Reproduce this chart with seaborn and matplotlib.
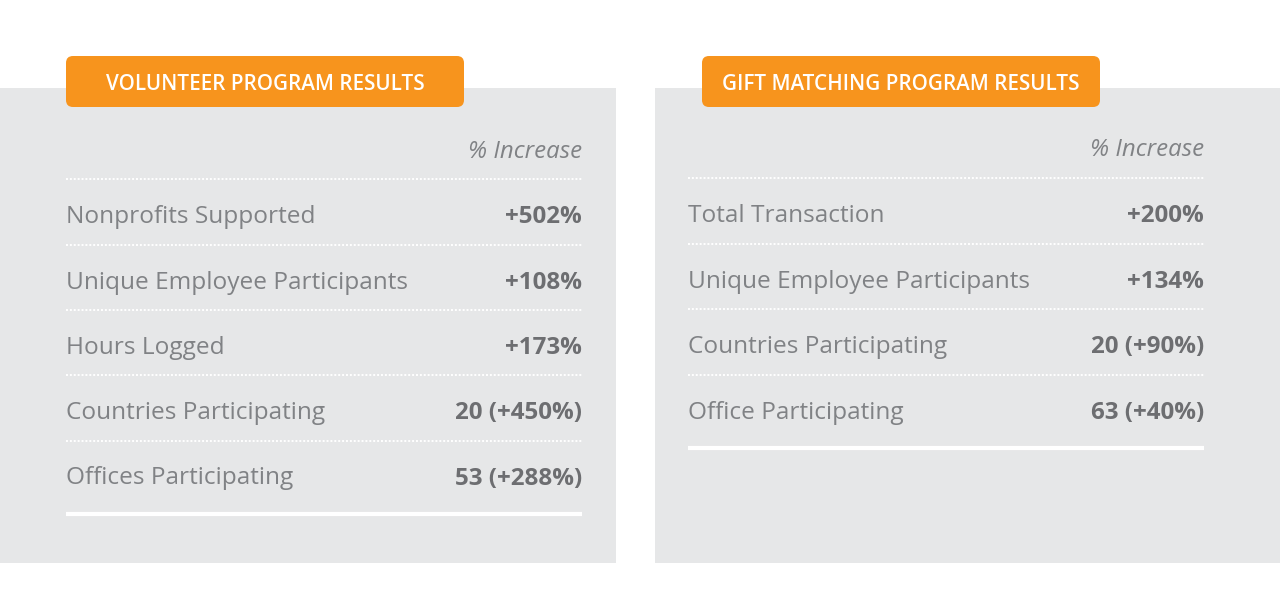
import matplotlib
matplotlib.use("Agg")
import matplotlib.pyplot as plt
from matplotlib.patches import Rectangle, FancyBboxPatch
import seaborn as sns

# ---- data ----
left_title = "VOLUNTEER PROGRAM RESULTS"
left_labels = ["Nonprofits Supported", "Unique Employee Participants", "Hours Logged",
               "Countries Participating", "Offices Participating"]
left_values = ["+502%", "+108%", "+173%", "20 (+450%)", "53 (+288%)"]

right_title = "GIFT MATCHING PROGRAM RESULTS"
right_labels = ["Total Transaction", "Unique Employee Participants",
                "Countries Participating", "Office Participating"]
right_values = ["+200%", "+134%", "20 (+90%)", "63 (+40%)"]

column_header = "% Increase"

sns.set_theme(style="white")
plt.rcParams['font.family'] = ['Open Sans', 'DejaVu Sans']

W, H = 1280, 597
fig = plt.figure(figsize=(W / 100, H / 100), dpi=100)
ax = fig.add_axes([0, 0, 1, 1])
ax.set_xlim(0, W)
ax.set_ylim(H, 0)
ax.axis('off')

PANEL = "#e6e7e8"
ORANGE = "#f7941d"
LABEL_C = "#808285"
VALUE_C = "#6d6e71"

def panel(px0, px1, tab_x0, tab_x1, title, labels, values, text_x0, text_x1,
          header_base, first_base, pitch):
    ax.add_patch(Rectangle((px0, 88), px1 - px0, 475, facecolor=PANEL, edgecolor='none', zorder=0))
    ax.add_patch(FancyBboxPatch((tab_x0, 56), tab_x1 - tab_x0, 51,
                                boxstyle="round,pad=0,rounding_size=7",
                                facecolor=ORANGE, edgecolor='none', zorder=2))
    ax.text((tab_x0 + tab_x1) / 2, 89.5, title, ha='center', va='baseline',
            color='white', fontsize=14.9, fontweight='semibold', zorder=3)
    ax.text(text_x1, header_base, column_header, ha='right', va='baseline',
            color=LABEL_C, fontsize=17.3, style='italic', zorder=3)
    n = len(labels)
    for i, (lab, val) in enumerate(zip(labels, values)):
        base = first_base + i * pitch
        sep_y = base - 44
        ax.hlines(sep_y, text_x0, text_x1, colors='white', lw=1.4,
                  linestyles=(0, (1, 1)), zorder=1)
        ax.text(text_x0, base, lab, ha='left', va='baseline', color=LABEL_C,
                fontsize=17.6, zorder=3)
        ax.text(text_x1, base, val, ha='right', va='baseline', color=VALUE_C,
                fontsize=17.4, fontweight='bold', zorder=3)
    end_y = first_base + (n - 1) * pitch + 29
    ax.hlines(end_y, text_x0, text_x1, colors='white', lw=3, zorder=1)

panel(0, 616, 66, 464, left_title, left_labels, left_values, 66, 582,
      157.5, 223.3, 65.3)
panel(655, 1280, 702, 1100, right_title, right_labels, right_values, 688, 1204,
      156.5, 222, 65.6)

fig.savefig("out.png", dpi=100, facecolor='white')
